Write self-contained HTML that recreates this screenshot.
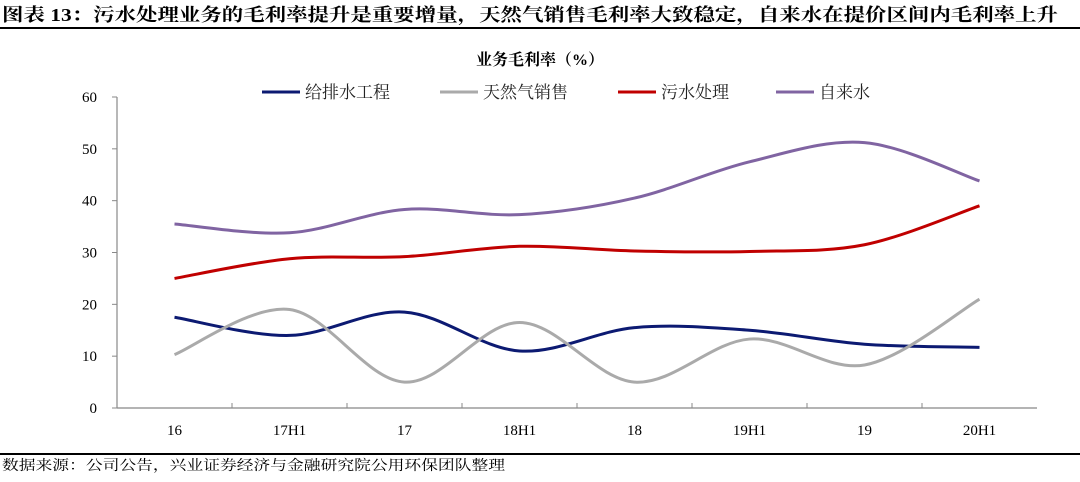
<!DOCTYPE html>
<html><head><meta charset="utf-8"><style>
body{margin:0;background:#fff;width:1080px;height:477px;overflow:hidden;font-family:"Liberation Serif","Noto Serif CJK SC",serif;}
</style></head><body>
<svg width="1080" height="477" xmlns="http://www.w3.org/2000/svg">
<text x="2" y="21" font-size="18" font-weight="bold" fill="#000" textLength="1056" lengthAdjust="spacingAndGlyphs" font-family="Liberation Serif, Noto Serif CJK SC, serif">图表 13：污水处理业务的毛利率提升是重要增量，天然气销售毛利率大致稳定，自来水在提价区间内毛利率上升</text>
<line x1="0" y1="28" x2="1080" y2="28" stroke="#000" stroke-width="2"/>
<text x="540" y="65" font-size="16" font-weight="bold" text-anchor="middle" font-family="Liberation Serif, Noto Serif CJK SC, serif">业务毛利率（%）</text>
<g id="legend"></g>
<g id="axes"></g>
<g id="series"></g>
<line x1="0" y1="454" x2="1080" y2="454" stroke="#000" stroke-width="2"/>
<text x="2" y="470" font-size="14" textLength="503" lengthAdjust="spacingAndGlyphs" font-family="Liberation Serif, Noto Serif CJK SC, serif">数据来源：公司公告，兴业证券经济与金融研究院公用环保团队整理</text>
</svg>
<script>
const categories=["16","17H1","17","18H1","18","19H1","19","20H1"];
const yTicks=[0,10,20,30,40,50,60];
const seriesNames=["给排水工程","天然气销售","污水处理","自来水"];
const water=[17.5,14,18.5,11,15.5,15,12.3,11.7];
const gas=[10.3,19,5,16.5,5,13.3,8.3,21];
const sewage=[25,28.8,29.2,31.2,30.3,30.2,31.5,39];
const tap=[35.5,33.8,38.3,37.3,40.5,47.5,51.2,43.8];
const colors=["#0c1a72","#aaaaaa","#c00000","#8064a2"];
const NS="http://www.w3.org/2000/svg";
const L=117,R=1037,T=97,B=408;
const bw=(R-L)/categories.length;
const x=i=>L+bw*(i+0.5);
const y=v=>B-(v/60)*(B-T);
const axes=document.getElementById('axes');
function mk(tag,attrs,parent){const e=document.createElementNS(NS,tag);for(const k in attrs)e.setAttribute(k,attrs[k]);parent.appendChild(e);return e;}
let a=mk('line',{x1:L,y1:T,x2:L,y2:B,stroke:'#888','stroke-width':1.2},axes);


a=mk('line',{x1:L,y1:B,x2:R,y2:B,stroke:'#888','stroke-width':1.2},axes);


yTicks.forEach(v=>{
 const t=mk('line',{x1:L-5,y1:y(v),x2:L,y2:y(v),stroke:'#888'},axes);
 
 
 const tx=mk('text',{x:L-20,y:y(v)+5,'font-size':15,'text-anchor':'end'},axes);
 tx.textContent=v;
 
 
});
categories.forEach((c,i)=>{
 if(i>0){const t=mk('line',{x1:L+bw*i,y1:B-5,x2:L+bw*i,y2:B,stroke:'#888'},axes);
 
 }
 const tx=mk('text',{x:x(i),y:B+27,'font-size':15,'text-anchor':'middle'},axes);
 tx.textContent=c;
 
 
});
function smooth(vals){
 const p=vals.map((v,i)=>[x(i),y(v)]);
 let d='M'+p[0][0]+','+p[0][1];
 for(let i=0;i<p.length-1;i++){
  const p0=p[i-1]||p[i],p1=p[i],p2=p[i+1],p3=p[i+2]||p[i+1];
  const c1=[p1[0]+(p2[0]-p0[0])/6,p1[1]+(p2[1]-p0[1])/6];
  const c2=[p2[0]-(p3[0]-p1[0])/6,p2[1]-(p3[1]-p1[1])/6];
  d+=' C'+c1+' '+c2+' '+p2;
 }
 return d;
}
const sg=document.getElementById('series');
const data=[water,gas,sewage,tap];
const snames=['line-water-supply','line-natural-gas','line-sewage','line-tap-water'];
data.forEach((vals,k)=>{
 const p=mk('path',{d:smooth(vals),fill:'none',stroke:colors[k],'stroke-width':3},sg);
 
 
});
const lg=document.getElementById('legend');
const lx=[262,440,618,776];
seriesNames.forEach((n,k)=>{
 const l=mk('line',{x1:lx[k],y1:92,x2:lx[k]+38,y2:92,stroke:colors[k],'stroke-width':3},lg);
 
 
 const t=mk('text',{x:lx[k]+43,y:98,'font-size':17,fill:'#222'},lg);
 t.textContent=n;
 
 
});
</script>
</body></html>
